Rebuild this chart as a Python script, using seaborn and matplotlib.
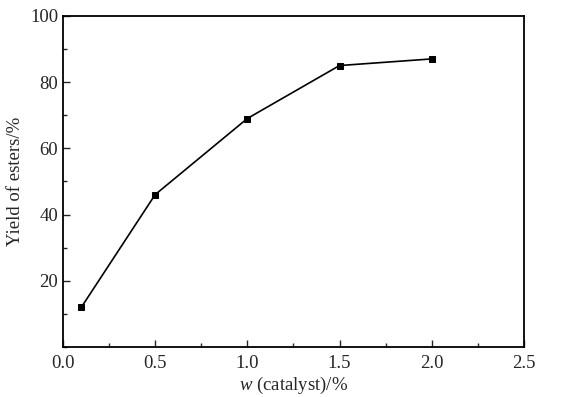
import pandas as pd
import seaborn as sns
import matplotlib.pyplot as plt
from matplotlib.ticker import MultipleLocator, FormatStrFormatter

catalyst = [0.1, 0.5, 1.0, 1.5, 2.0]
yield_esters = [12, 46, 69, 85, 87]

df = pd.DataFrame({"catalyst": catalyst, "yield": yield_esters})

sns.set_style("ticks")
plt.rcParams['font.family'] = ['Liberation Serif', 'DejaVu Serif']
plt.rcParams['mathtext.fontset'] = 'custom'
plt.rcParams['mathtext.it'] = 'Liberation Serif:italic'

fig = plt.figure(figsize=(5.88, 3.97), dpi=100)
ax = fig.add_axes([0.107, 0.126, 0.784, 0.834])

sns.lineplot(data=df, x="catalyst", y="yield", ax=ax, color="black",
             marker="s", markersize=5, markeredgecolor="black", linewidth=1.2)

ax.set_xlim(0, 2.5)
ax.set_ylim(0, 100)
ax.xaxis.set_major_locator(MultipleLocator(0.5))
ax.xaxis.set_minor_locator(MultipleLocator(0.25))
ax.xaxis.set_major_formatter(FormatStrFormatter("%.1f"))
ax.yaxis.set_minor_locator(MultipleLocator(10))
ax.set_yticks([20, 40, 60, 80, 100])

ax.tick_params(which="major", direction="in", length=5, width=1, labelsize=13.5)
ax.tick_params(axis="x", which="major", pad=6)
ax.tick_params(which="minor", direction="in", length=3, width=1)
for s in ax.spines.values():
    s.set_linewidth(1.3)
    s.set_color("black")

ax.set_xlabel(r"$w$ (catalyst)/%", fontsize=13.5, labelpad=2)
ax.set_ylabel("Yield of esters/%", fontsize=13.5, labelpad=4)

fig.savefig("out.png", dpi=100)
